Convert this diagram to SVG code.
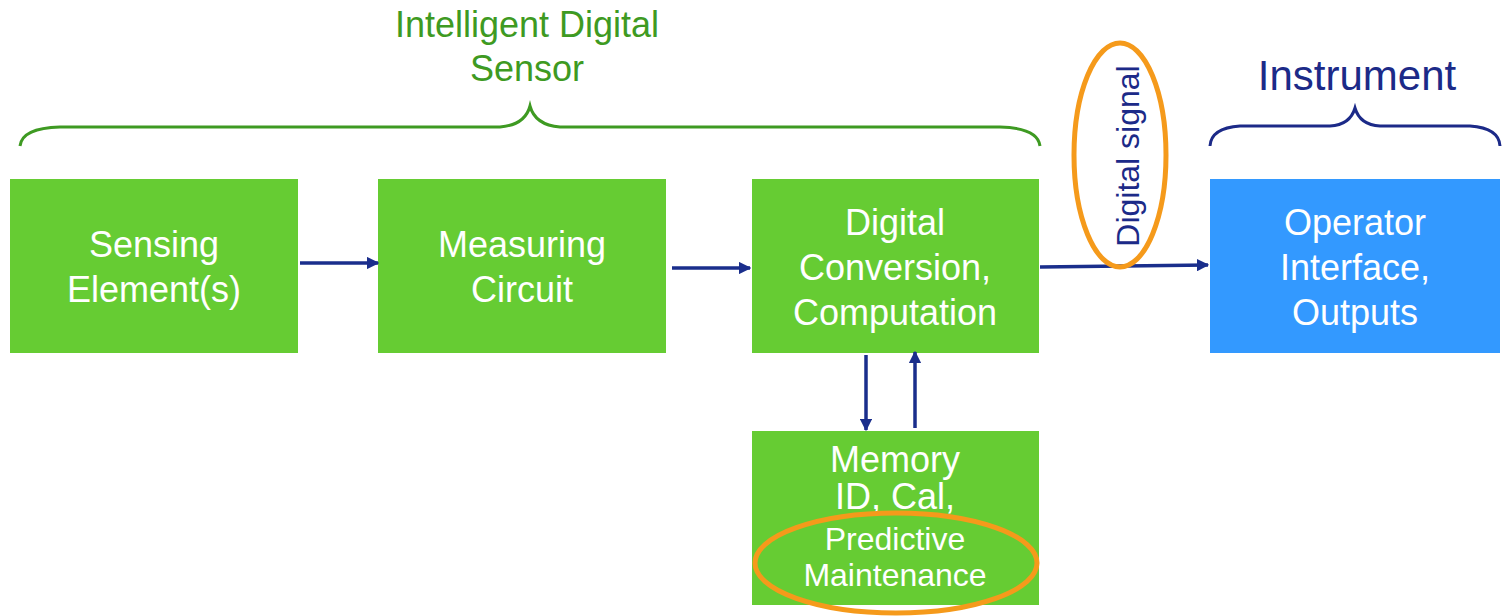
<svg xmlns="http://www.w3.org/2000/svg" width="1503" height="616" viewBox="0 0 1503 616">
<style>
.box{fill:#66CC33}
.blue{fill:#3399FF}
.bt{font-family:"Liberation Sans",Arial,sans-serif;font-size:36px;fill:#ffffff;text-anchor:middle}
.sm{font-size:32px}
.conn{stroke:#1A2E8C;stroke-width:3.5;fill:none}
.ring{stroke:#F59A1B;stroke-width:5;fill:none}
</style>
<defs>
<marker id="ah" viewBox="0 0 10 10" refX="9" refY="5" markerWidth="3.6" markerHeight="3.6" orient="auto" markerUnits="strokeWidth">
<path d="M0,0 L10,5 L0,10 z" fill="#1A2E8C"/>
</marker>
</defs>
<g id="labels">
<text x="527" y="37" font-family="Liberation Sans,Arial,sans-serif" font-size="36" fill="#3E9A22" text-anchor="middle">Intelligent Digital</text>
<text x="527" y="81" font-family="Liberation Sans,Arial,sans-serif" font-size="36" fill="#3E9A22" text-anchor="middle">Sensor</text>
<text x="1357" y="90" font-family="Liberation Sans,Arial,sans-serif" font-size="42" fill="#1C2A88" text-anchor="middle">Instrument</text>
</g>
<g id="braces">
<path d="M20,146 Q22,128 60,127 L500,127 Q525,125 530,106 Q535,125 560,127 L1000,127 Q1038,128 1040,146" stroke="#3E9A22" stroke-width="3" fill="none"/>
<path d="M1210,146 Q1211,128 1240,126 L1330,126 Q1350,125 1355,108 Q1360,125 1380,126 L1470,126 Q1499,128 1500,146" stroke="#1C2A88" stroke-width="3" fill="none"/>
</g>
<g id="sensing">
<rect class="box" x="10" y="179" width="288" height="174"/>
<text class="bt" x="154" y="257">Sensing</text>
<text class="bt" x="154" y="302">Element(s)</text>
</g>
<g id="measuring">
<rect class="box" x="378" y="179" width="288" height="174"/>
<text class="bt" x="522" y="257">Measuring</text>
<text class="bt" x="522" y="302">Circuit</text>
</g>
<g id="digital">
<rect class="box" x="752" y="179" width="287" height="174"/>
<text class="bt" x="895" y="235">Digital</text>
<text class="bt" x="895" y="280">Conversion,</text>
<text class="bt" x="895" y="325">Computation</text>
</g>
<g id="operator">
<rect class="blue" x="1210" y="179" width="290" height="174"/>
<text class="bt" x="1355" y="235">Operator</text>
<text class="bt" x="1355" y="280">Interface,</text>
<text class="bt" x="1355" y="325">Outputs</text>
</g>
<g id="memory">
<rect class="box" x="752" y="431" width="287" height="174"/>
<text class="bt" x="895" y="472">Memory</text>
<text class="bt" x="895" y="509">ID, Cal,</text>
<text class="bt sm" x="895" y="550">Predictive</text>
<text class="bt sm" x="895" y="586">Maintenance</text>
</g>
<g id="connectors">
<line class="conn" x1="300" y1="263" x2="378" y2="263" marker-end="url(#ah)"/>
<line class="conn" x1="672" y1="268" x2="750" y2="268" marker-end="url(#ah)"/>
<line class="conn" x1="1040" y1="267" x2="1208" y2="265" marker-end="url(#ah)"/>
<line class="conn" x1="866" y1="355" x2="866" y2="430" marker-end="url(#ah)"/>
<line class="conn" x1="915" y1="428" x2="915" y2="352" marker-end="url(#ah)"/>
</g>
<g id="digital-signal">
<text x="0" y="0" transform="translate(1139,156) rotate(-90)" font-family="Liberation Sans,Arial,sans-serif" font-size="32" fill="#1C2A88" text-anchor="middle">Digital signal</text>
<ellipse class="ring" cx="1120" cy="155" rx="46" ry="112"/>
</g>
<g id="highlight">
<ellipse class="ring" cx="896" cy="563" rx="141" ry="50"/>
</g>
</svg>
